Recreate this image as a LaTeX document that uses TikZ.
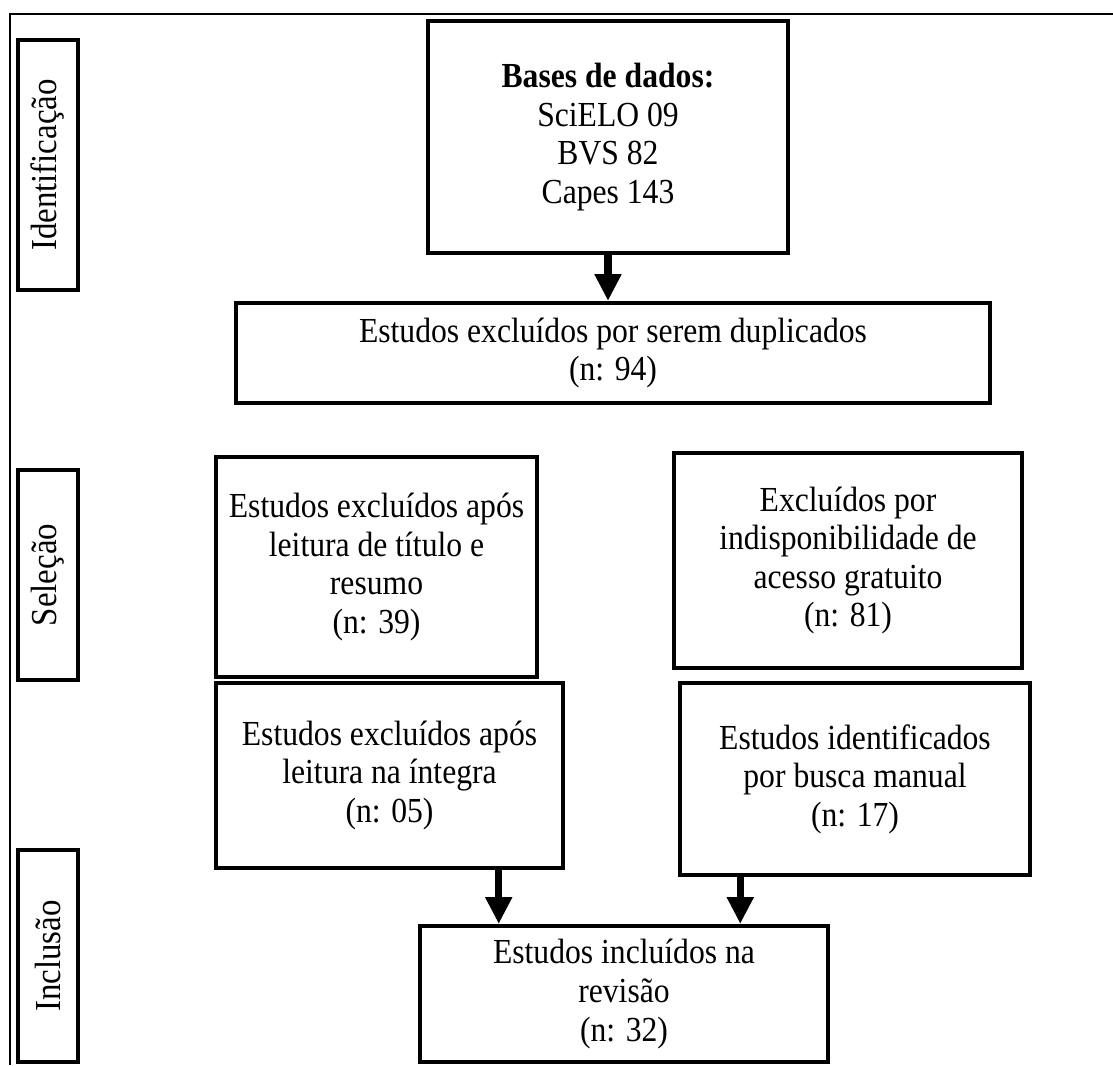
\documentclass[tikz,border=0pt]{standalone}
\usepackage{fontspec}
\setmainfont[FakeStretch=0.9]{Liberation Serif}
\usetikzlibrary{arrows.meta}
\tikzset{
  caixa/.style={draw,line width=1.5pt,align=center,inner sep=2pt,font=\fontsize{12.5}{13.7}\selectfont},
  etapa/.style={draw,line width=1.5pt,rotate=90,minimum height=0.75cm,inner sep=2pt,font=\fontsize{13}{13}\selectfont},
  seta/.style={-{Triangle[width=9pt,length=9.5pt]},line width=2.5pt},
  moldura/.style={line width=0.8pt}
}

\begin{document}
\begin{tikzpicture}[x=0.0125cm,y=-0.0125cm]
\useasboundingbox (0,0) rectangle (1113,1065);
\draw[moldura] (10,1065)--(10,14)--(1113,14);
\node[etapa,minimum width=3.125cm] (ident) at (48,165) {Identificação};
\node[etapa,minimum width=2.625cm] (selec) at (48,575) {Seleção};
\node[etapa,minimum width=2.65cm] (incl) at (48,956) {Inclusão};
\node[caixa,minimum width=4.5cm,minimum height=2.9cm] (bases) at (608,137) {\textbf{Bases de dados:}\\SciELO 09\\BVS 82\\Capes 143};
\node[caixa,minimum width=9.425cm,minimum height=1.25cm] (dupl) at (613,353) {Estudos excluídos por serem duplicados\\(n: 94)};
\node[caixa,minimum width=4.0125cm,minimum height=2.75cm] (titulo) at (376.5,567) {Estudos excluídos após\\leitura de título e\\resumo\\(n: 39)};
\node[caixa,minimum width=4.35cm,minimum height=2.6875cm] (acesso) at (848,560.5) {Excluídos por\\indisponibilidade de\\acesso gratuito\\(n: 81)};
\node[caixa,minimum width=4.3375cm,minimum height=2.3125cm] (integra) at (389.5,775.5) {Estudos excluídos após\\leitura na íntegra\\(n: 05)};
\node[caixa,minimum width=4.375cm,minimum height=2.4cm] (manual) at (855,779) {Estudos identificados\\por busca manual\\(n: 17)};
\node[caixa,minimum width=5.1cm,minimum height=1.7cm] (incluidos) at (624,994) {Estudos incluídos na\\revisão\\(n: 32)};
\draw[seta] (bases.south)--(bases.south |- dupl.north);
\draw[seta] ([xshift=-0.83cm]integra.south east)--([xshift=-0.83cm]integra.south east |- incluidos.north);
\draw[seta] ([xshift=0.78cm]manual.south west)--([xshift=0.78cm]manual.south west |- incluidos.north);
\end{tikzpicture}
\end{document}
